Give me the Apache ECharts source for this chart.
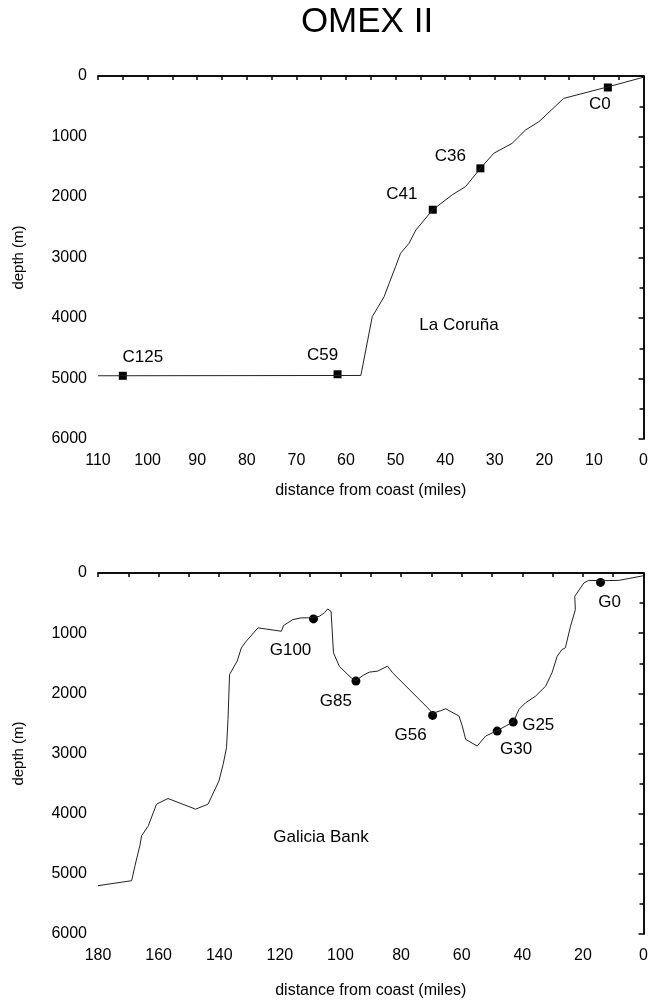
<!DOCTYPE html>
<html>
<head>
<meta charset="utf-8">
<script src="https://cdn.jsdelivr.net/npm/echarts@6/dist/echarts.min.js"></script>
<style>
  html, body { margin: 0; padding: 0; background: #fff; }
  #main { width: 651px; height: 1000px; }
</style>
</head>
<body>
<div id="main"></div>
<script>
// La Coruña section
var coruDist  = [110, 57.0, 54.7, 53.7, 52.3, 51.3, 50.0, 49.0, 47.3, 45.9, 42.5, 38.5, 35.9, 34.5, 32.9, 30.2, 26.5, 23.8, 21.1, 16.1, 7.2, 0];
var coruDepth = [4955, 4950, 3978, 3840, 3647, 3427, 3151, 2931, 2766, 2545, 2210, 1960, 1829, 1690, 1526, 1278, 1113, 893, 755, 370, 180, 20];
var coruStations = ['C125', 'C59', 'C41', 'C36', 'C0'];
var coruStDist   = [105.0, 61.7, 42.5, 32.9, 7.2];
var coruStDepth  = [4955, 4930, 2210, 1526, 190];

// Galicia Bank section
var galDist  = [180, 168.9, 167.8, 166.2, 165.6, 163.4, 160.7, 156.9, 147.8, 143.7, 140.1, 138.7, 137.6, 137.1, 136.6, 134.1, 132.7, 131.1, 127.2, 119.5, 118.8, 115.7, 113.0, 110.5, 107.0, 105.3, 104.2, 103.1, 102.3, 100.4, 96.5, 94.9, 92.5, 90.5, 87.8, 84.5, 82.8, 70.7, 69.6, 67.0, 65.3, 60.9, 59.8, 58.7, 54.9, 52.1, 48.3, 45.5, 43.0, 41.1, 38.9, 35.6, 32.3, 30.2, 28.5, 26.9, 25.8, 24.1, 22.5, 22.7, 19.7, 18.1, 14.2, 8.2, 0];
var galDepth = [5197, 5114, 4866, 4534, 4368, 4202, 3843, 3748, 3925, 3843, 3456, 3179, 2902, 2433, 1687, 1466, 1244, 1134, 912, 968, 874, 774, 746, 745, 720, 663, 597, 640, 1327, 1549, 1741, 1790, 1700, 1648, 1632, 1549, 1658, 2267, 2330, 2290, 2256, 2378, 2544, 2765, 2876, 2710, 2620, 2544, 2478, 2267, 2156, 2046, 1881, 1658, 1383, 1272, 1244, 886, 609, 388, 166, 123, 128, 123, 45];
var galStations = ['G100', 'G85', 'G56', 'G30', 'G25', 'G0'];
var galStDist   = [108.9, 94.9, 69.6, 48.3, 43.0, 14.2];
var galStDepth  = [763, 1797, 2367, 2627, 2478, 156];

var yTicks = [0, 1000, 2000, 3000, 4000, 5000, 6000];

// label offsets (style only)
var coruOffsets = { C125: [20, -18], C59: [-15, -19], C41: [-31, -15], C36: [-30, -12], C0: [-8, 17] };
var galOffsets  = { G100: [-23, 31], G85: [-20, 20], G56: [-22, 20], G30: [19, 18], G25: [25, 3], G0: [9, 20] };

var FONT = 'Liberation Sans';
var BLACK = '#000';

function stationData(names, xs, ys, offsets) {
  return names.map(function (n, i) {
    return {
      name: n,
      value: [xs[i], ys[i]],
      label: { show: true, formatter: n, position: 'inside', offset: offsets[n],
               color: BLACK, textBorderWidth: 0, fontFamily: FONT, fontSize: 17 }
    };
  });
}

function xAxes(gridIndex, max, interval) {
  return [{
    type: 'value', gridIndex: gridIndex, min: 0, max: max, interval: interval, inverse: true,
    position: 'bottom',
    name: 'distance from coast (miles)', nameLocation: 'middle',
    nameGap: gridIndex === 0 ? 44 : 49,
    nameTextStyle: { color: BLACK, fontFamily: FONT, fontSize: 16 },
    axisLine: { lineStyle: { color: BLACK, width: 1.5 } },
    axisTick: { inside: false, length: 4, lineStyle: { color: BLACK, width: 1.5 } },
    minorTick: { show: true, splitNumber: 2, length: 3, lineStyle: { color: BLACK, width: 1.5 } },
    axisLabel: { color: BLACK, fontFamily: FONT, fontSize: 16, margin: 14 },
    splitLine: { show: false }
  }, {
    type: 'value', gridIndex: gridIndex, min: 0, max: max, interval: interval, inverse: true,
    position: 'top',
    axisLine: { lineStyle: { color: BLACK, width: 1.5 } },
    axisTick: { inside: true, length: 4, lineStyle: { color: BLACK, width: 1.5 } },
    minorTick: { show: true, splitNumber: 2, length: 4, lineStyle: { color: BLACK, width: 1.5 } },
    axisLabel: { show: false },
    splitLine: { show: false }
  }];
}

function yAxes(gridIndex) {
  return [{
    type: 'value', gridIndex: gridIndex, min: 0, max: 6000, interval: 1000, inverse: true,
    position: 'left',
    name: 'depth (m)', nameLocation: 'middle', nameGap: 72, nameRotate: 90,
    nameTextStyle: { color: BLACK, fontFamily: FONT, fontSize: 15 },
    axisLine: { show: true, lineStyle: { color: BLACK, width: 1.5 } },
    axisTick: { show: true, inside: false, length: 5, lineStyle: { color: BLACK, width: 1.5 } },
    minorTick: { show: true, splitNumber: 2, length: 3, lineStyle: { color: BLACK, width: 1.5 } },
    axisLabel: { color: BLACK, fontFamily: FONT, fontSize: 16, margin: 11,
                 formatter: function (v) { return yTicks.indexOf(v) >= 0 ? String(v) : ''; } },
    splitLine: { show: false }
  }, {
    type: 'value', gridIndex: gridIndex, min: 0, max: 6000, interval: 1000, inverse: true,
    position: 'right',
    axisLine: { show: true, lineStyle: { color: BLACK, width: 1.5 } },
    axisTick: { show: true, inside: true, length: 4, lineStyle: { color: BLACK, width: 1.5 } },
    minorTick: { show: true, splitNumber: 2, length: 4, lineStyle: { color: BLACK, width: 1.5 } },
    axisLabel: { show: false },
    splitLine: { show: false }
  }];
}

function pairs(xs, ys) {
  return xs.map(function (x, i) { return [x, ys[i]]; });
}

var chart = echarts.init(document.getElementById('main'), null, { renderer: 'canvas' });
chart.setOption({
  animation: false,
  backgroundColor: '#fff',
  grid: [
    { left: 98, right: 6, top: 76, height: 363 },
    { left: 98, right: 6, top: 573, height: 362 }
  ],
  xAxis: xAxes(0, 110, 10).concat(xAxes(1, 180, 20)),
  yAxis: yAxes(0).concat(yAxes(1)),
  graphic: [
    { type: 'text', x: 367, y: 22,
      style: { text: 'OMEX II', fill: BLACK, font: '35px "Liberation Sans"', align: 'center', verticalAlign: 'middle' } },
    { type: 'text', x: 459, y: 325,
      style: { text: 'La Coruña', fill: BLACK, font: '17px "Liberation Sans"', align: 'center', verticalAlign: 'middle' } },
    { type: 'text', x: 321, y: 837,
      style: { text: 'Galicia Bank', fill: BLACK, font: '17px "Liberation Sans"', align: 'center', verticalAlign: 'middle' } }
  ],
  series: [
    { type: 'line', xAxisIndex: 0, yAxisIndex: 0, data: pairs(coruDist, coruDepth),
      showSymbol: false, lineStyle: { color: '#222', width: 1 } },
    { type: 'scatter', xAxisIndex: 0, yAxisIndex: 0, symbol: 'rect', symbolSize: 8,
      itemStyle: { color: BLACK, opacity: 1 }, data: stationData(coruStations, coruStDist, coruStDepth, coruOffsets) },
    { type: 'line', xAxisIndex: 2, yAxisIndex: 2, data: pairs(galDist, galDepth),
      showSymbol: false, lineStyle: { color: '#222', width: 1 } },
    { type: 'scatter', xAxisIndex: 2, yAxisIndex: 2, symbol: 'circle', symbolSize: 9,
      itemStyle: { color: BLACK, opacity: 1 }, data: stationData(galStations, galStDist, galStDepth, galOffsets) }
  ]
});
</script>
</body>
</html>
